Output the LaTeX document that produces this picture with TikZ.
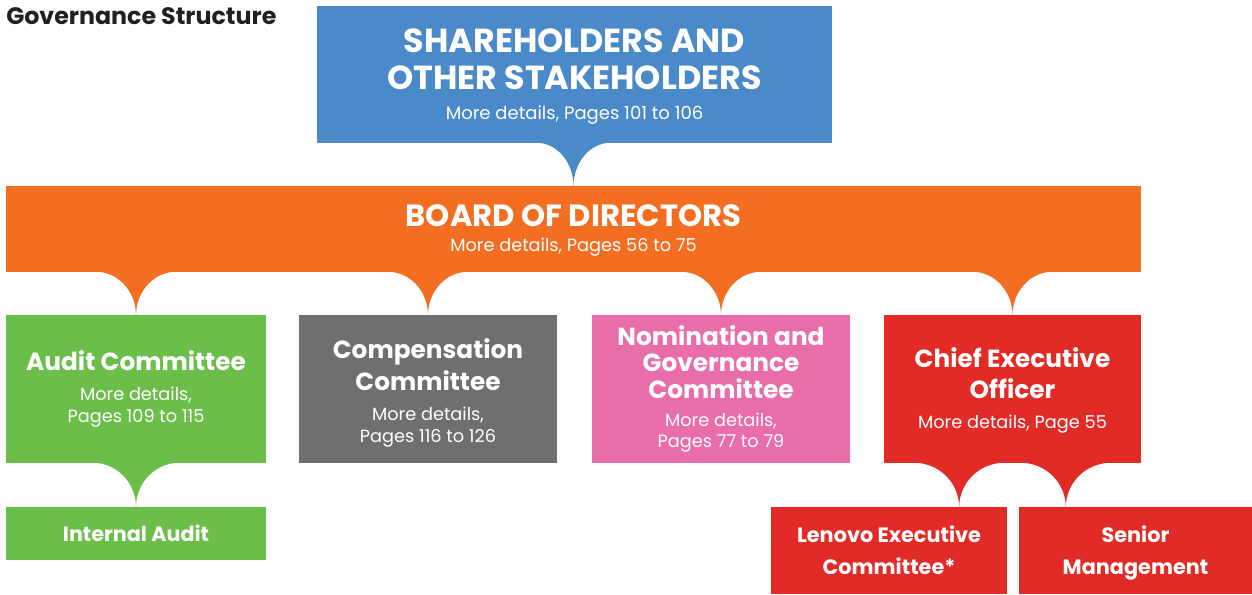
\documentclass[tikz,border=0pt]{standalone}
\usepackage{fontspec}
\setmainfont{Poppins}
\usepackage{tikz}
\usepackage{color}

\definecolor{holdersblue}{HTML}{4A8AC9}
\definecolor{boardorange}{HTML}{F36E21}
\definecolor{auditgreen}{HTML}{6CBE4B}
\definecolor{compgrey}{HTML}{6F6F6E}
\definecolor{nompink}{HTML}{E86DAA}
\definecolor{ceored}{HTML}{E22A27}
\definecolor{titleblack}{HTML}{231F20}

% font of one line; the gaps between lines come from \\[..]
\newcommand\bfsz[1]{\fontsize{#1}{0pt}\selectfont\bfseries}
\newcommand\mdsz[1]{\fontsize{#1}{0pt}\selectfont\mdseries}

% tab hanging from a box: colour, point on the box edge, half width, depth
\newcommand\cusp[4]{%
  \fill[#1] #2 ++(-#3,-0.5)
    arc[start angle=270,end angle=360,x radius=#3,y radius=#4+0.5]
    arc[start angle=180,end angle=270,x radius=#3,y radius=#4+0.5] -- cycle;}

\begin{document}
\lineskiplimit=-100pt\relax
\lineskip=0pt\relax
\begin{tikzpicture}[x=0.75pt,y=-0.75pt,
  box/.style={rectangle,inner sep=0pt,text=white,align=center,font=\fontsize{10}{0pt}\selectfont},
  title/.style={text=titleblack,anchor=west,inner sep=0pt,font=\bfsz{17.8}}]
\useasboundingbox (0,0) rectangle (1252,594);

%% top
\node[title] (title) at (6,16) {Governance Structure};
\node[box,fill=holdersblue,minimum width=386.25pt,minimum height=102.75pt] (holders) at (574.5,74.5)
  {\bfsz{25}\rule{0pt}{21pt}SHAREHOLDERS AND\\[28pt]\bfsz{25}OTHER STAKEHOLDERS\\[22.5pt]\mdsz{13.5}More details, Pages 101 to 106};
\node[box,fill=boardorange,minimum width=851.25pt,minimum height=64.5pt] (board) at (573.5,229)
  {\bfsz{23}\rule{0pt}{19pt}BOARD OF DIRECTORS\\[19pt]\mdsz{13.3}More details, Pages 56 to 75};

%% committees
\node[box,fill=auditgreen,minimum width=195pt,minimum height=111pt] (audit) at (136,389)
  {\bfsz{18.6}Audit Committee\\[23pt]\mdsz{13.3}More details,\\[16.5pt]\mdsz{13.3}Pages 109 to 115};
\node[box,fill=compgrey,minimum width=193.5pt,minimum height=111pt] (comp) at (428,389)
  {\bfsz{18.6}\rule{0pt}{21.5pt}Compensation\\[24pt]\bfsz{18.6}Committee\\[22pt]\mdsz{13.3}More details,\\[17pt]\mdsz{13.3}Pages 116 to 126};
\node[box,fill=nompink,minimum width=193.5pt,minimum height=111pt] (nom) at (721,389)
  {\bfsz{18.6}Nomination and\\[20pt]\bfsz{18.6}Governance\\[20pt]\bfsz{18.6}Committee\\[21pt]\mdsz{13.3}More details,\\[16pt]\mdsz{13.3}Pages 77 to 79};
\node[box,fill=ceored,minimum width=192.75pt,minimum height=111pt] (ceo) at (1012.5,389)
  {\bfsz{18.6}\rule{0pt}{17pt}Chief Executive\\[23pt]\bfsz{18.6}Officer\\[22.5pt]\mdsz{13.3}More details, Page 55};

%% bottom row
\node[box,fill=auditgreen,minimum width=195pt,minimum height=39.75pt] (internal) at (136,533.5)
  {\bfsz{15.5}Internal Audit};
\node[box,fill=ceored,minimum width=177pt,minimum height=65.25pt] (lenovo) at (889,550.5)
  {\bfsz{15.6}Lenovo Executive\\[24pt]\bfsz{15.6}Committee*};
\node[box,fill=ceored,minimum width=174.75pt,minimum height=65.25pt] (senior) at (1135.5,550.5)
  {\bfsz{15.6}Senior\\[24pt]\bfsz{15.6}\smash{Management}};

%% tabs
\cusp{holdersblue}{(board.north |- holders.south)}{37}{43}
\cusp{boardorange}{(audit.north |- board.south)}{40}{43}
\cusp{boardorange}{(comp.north |- board.south)}{40}{43}
\cusp{boardorange}{(nom.north |- board.south)}{40}{43}
\cusp{boardorange}{(ceo.north |- board.south)}{40}{43}
\cusp{auditgreen}{(internal.north |- audit.south)}{43}{44}
\cusp{ceored}{([xshift=-40pt]ceo.south)}{45}{44}
\cusp{ceored}{([xshift=40pt]ceo.south)}{45}{44}

\end{tikzpicture}
\end{document}
